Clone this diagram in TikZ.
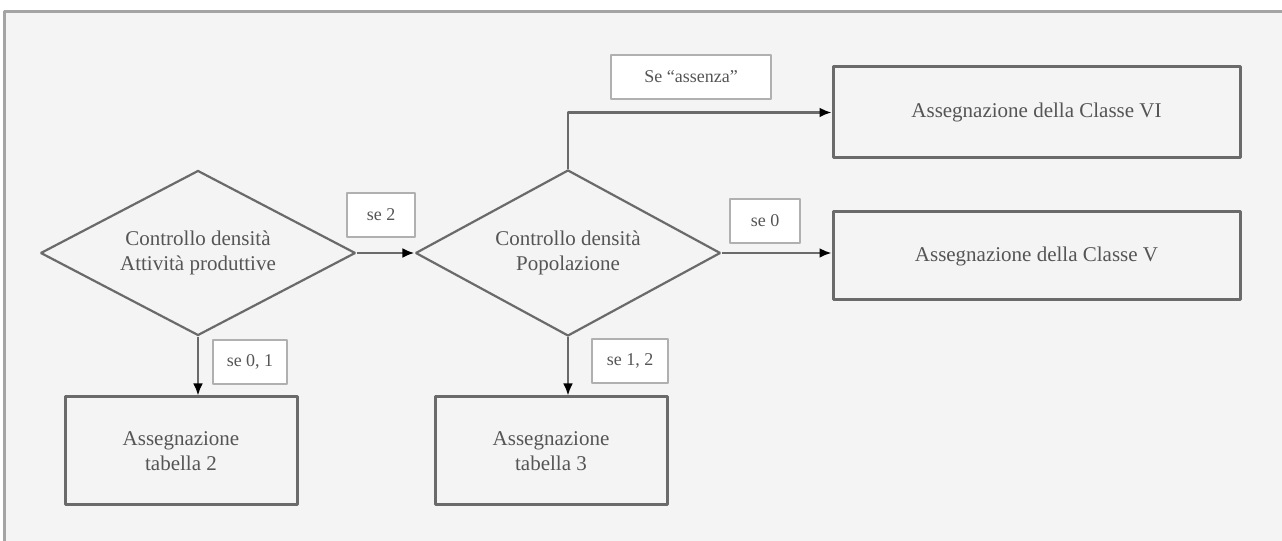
\documentclass[tikz,border=0pt]{standalone}
\usepackage{fontspec}
\setmainfont{Liberation Serif}
\usetikzlibrary{shapes.geometric,arrows.meta}
\definecolor{framegray}{HTML}{A4A4A4}
\definecolor{linegray}{HTML}{6A6A6A}
\definecolor{textgray}{HTML}{555555}
\definecolor{taggray}{HTML}{B0B0B0}
\definecolor{paper}{HTML}{F4F4F4}
\tikzset{
  testbox/.style={draw=linegray,line width=2.2bp,diamond,aspect=1.9,inner sep=0pt,
    minimum width=315bp,minimum height=165bp,align=center,text=textgray,
    font=\fontsize{21bp}{25bp}\selectfont},
  classbox/.style={draw=linegray,line width=3bp,rectangle,align=center,text=textgray,
    font=\fontsize{21bp}{25bp}\selectfont},
  tagbox/.style={draw=taggray,line width=2.5bp,fill=white,rectangle,text=textgray,
    inner xsep=9bp,minimum height=44bp,font=\fontsize{18bp}{21bp}\selectfont},
  flow/.style={draw=linegray,line width=2.4bp,-{Latex[length=12bp,width=10bp,color=black]}},
}
\begin{document}
\begin{tikzpicture}[>=latex,line join=bevel,]
    \useasboundingbox (0bp,0bp) rectangle (1282bp,541bp);
    \fill [paper] (4bp,0bp) rectangle (1282bp,529bp);
    \draw [framegray,line width=3bp] (4bp,0bp) -- (4bp,529bp) -- (1282bp,529bp);
    %%
    \node (d1) at (198.0bp,288.0bp) [testbox] {Controllo densità\\Attività produttive};
    \node (d2) at (568.0bp,288.0bp) [testbox,minimum width=305bp,minimum height=166bp] {Controllo densità\\Popolazione};
    \node (c6) at (1036.5bp,428.5bp) [classbox,minimum width=407bp,minimum height=91bp] {Assegnazione della Classe VI};
    \node (c5) at (1036.5bp,285.0bp) [classbox,minimum width=407bp,minimum height=88bp] {Assegnazione della Classe V};
    \node (t2) at (181.0bp,90.0bp) [classbox,minimum width=232bp,minimum height=108bp] {Assegnazione\\tabella 2};
    \node (t3) at (551.0bp,90.0bp) [classbox,minimum width=232bp,minimum height=108bp] {Assegnazione\\tabella 3};
    \draw [flow] (d1.east) -- (d2.west);
    \draw [flow] (d2.north) |- (c6.west);
    \draw [flow] (d2.east) -- (d2.east -| c5.west);
    \draw [flow] (d1.south) -- (d1.south |- t2.north);
    \draw [flow] (d2.south) -- (d2.south |- t3.north);
    \node (l1) at (381.0bp,326.0bp) [tagbox,minimum width=68bp] {se 2};
    \node (l2) at (765.0bp,320.0bp) [tagbox,minimum width=70bp] {se 0};
    \node (l3) at (250.0bp,179.0bp) [tagbox,minimum width=74bp] {se 0, 1};
    \node (l4) at (630.0bp,180.0bp) [tagbox,minimum width=76bp] {se 1, 2};
    \node (l5) at (691.0bp,464.0bp) [tagbox,minimum width=160bp] {Se ``assenza''};
    %
\end{tikzpicture}
\end{document}
